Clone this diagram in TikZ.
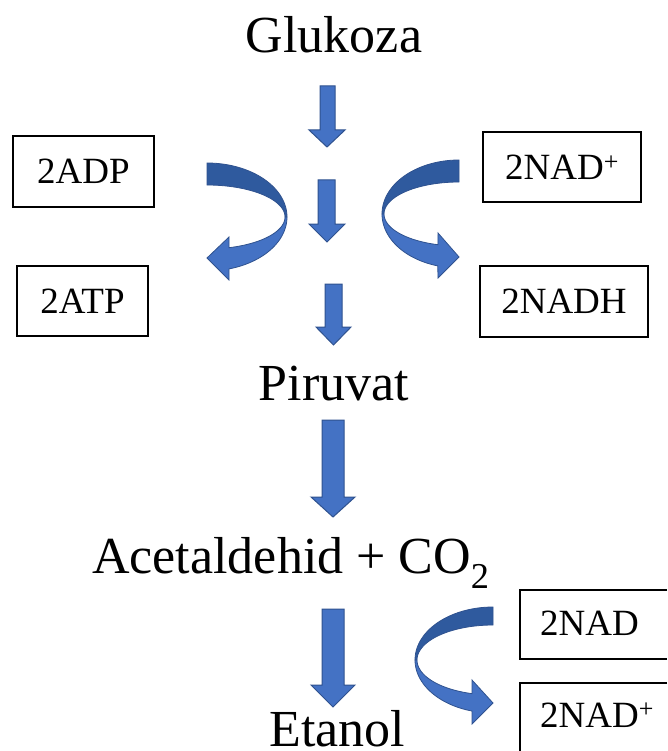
\documentclass[tikz,border=0pt]{standalone}
\usepackage{fontspec}
\setmainfont{Liberation Serif}
\definecolor{arrowfill}{HTML}{4472C4}
\definecolor{arrowdark}{HTML}{2F5A9E}
\definecolor{arrowline}{HTML}{2F528F}
\tikzset{
  big/.style={inner sep=0pt, anchor=base, font=\fontsize{52}{60}\selectfont},
  boxnode/.style={draw=black, line width=1.2pt, inner sep=0pt, font=\fontsize{37}{44}\selectfont},
  boxtext/.style={inner sep=0pt, font=\fontsize{37}{44}\selectfont},
  boxline/.style={draw=black, line width=1.2pt, line cap=butt},
  blockarrow/.style={fill=arrowfill, draw=arrowline, line width=1pt, line join=miter},
  darkband/.style={fill=arrowdark, draw=arrowline, line width=0.8pt},
  lightband/.style={fill=arrowfill, draw=arrowline, line width=0.8pt, line join=miter}
}
% straight block arrow: #1 shaft left, #2 shaft right, #3 head left, #4 head right, #5 top, #6 head start, #7 tip
\newcommand{\myblockarrow}[7]{%
  \fill[blockarrow] (#1,#5) -- (#2,#5) -- (#2,#6) -- (#4,#6) -- ({(#3+#4)/2},#7) -- (#3,#6) -- (#1,#6) -- cycle;}
\begin{document}
\begin{tikzpicture}[x=1pt,y=-1pt]
\path[use as bounding box] (0,0) rectangle (667,751);
\fill[white] (0,0) rectangle (667,751);

% main texts
\node[big] (glu) at (334,53) {Glukoza};
\node[big] (pir) at (334,400) {Piruvat};
\node[big, anchor=base west] (ace) at (92,573) {Acetaldehid + CO\textsubscript{2}};
\node[big] (eta) at (337.5,746) {Etanol};

% boxes
\node[boxnode, minimum width=141, minimum height=71] (adp) at (83.5,171.5) {2ADP};
\node[boxnode, minimum width=131, minimum height=70] (atp) at (82.5,301) {2ATP};
\node[boxnode, minimum width=158, minimum height=70] (nadp) at (562,167) {2NAD\textsuperscript{+}};
\node[boxnode, minimum width=168, minimum height=71] (nadh) at (564,301.5) {2NADH};
% boxes cut by the right / bottom edge
\node[boxtext, anchor=base west] (nad2) at (540,635) {2NAD};
\node[boxtext, anchor=base west] (nadp2) at (540,727) {2NAD\textsuperscript{+}};
\coordinate (b1ne) at (667,590); \coordinate (b1nw) at (520,590);
\coordinate (b1sw) at (520,659); \coordinate (b1se) at (667,659);
\draw[boxline] (b1ne) -- (b1nw) -- (b1sw) -- (b1se);
\coordinate (b2ne) at (667,683); \coordinate (b2nw) at (520,683);
\coordinate (b2sw) at (520,751);
\draw[boxline] (b2ne) -- (b2nw) -- (b2sw);

% straight block arrows
\myblockarrow{320}{335}{309}{345}{86}{130}{147}
\myblockarrow{318}{335}{309}{345}{180}{224}{242}
\myblockarrow{325}{342}{316}{351}{284}{327}{345}
\myblockarrow{322}{344}{311}{355}{420}{497}{517}
\myblockarrow{322}{344}{311}{355}{609}{685}{707}

% left curved arrow (2ADP -> 2ATP)
\fill[darkband] plot[domain=-90:0, samples=40] ({207+80*cos(\x)},{217+54*sin(\x)})
  -- plot[domain=0:-90, samples=40] ({207+78*cos(\x)},{217+32*sin(\x)}) -- cycle;
\fill[lightband] plot[domain=0:74, samples=30] ({207+80*cos(\x)},{217+54*sin(\x)})
  -- (229,280) -- (207,258) -- (229,237)
  -- plot[domain=73.6:0, samples=30] ({207+78*cos(\x)},{217+32*sin(\x)}) -- cycle;

% right curved arrow (2NAD+ -> 2NADH)
\fill[darkband] plot[domain=-90:0, samples=40] ({459-77*cos(\x)},{214+54*sin(\x)})
  -- plot[domain=0:-90, samples=40] ({459-75*cos(\x)},{214+32*sin(\x)}) -- cycle;
\fill[lightband] plot[domain=0:74, samples=30] ({459-77*cos(\x)},{214+54*sin(\x)})
  -- (438,278) -- (459,257) -- (438,233)
  -- plot[domain=73.7:0, samples=30] ({459-75*cos(\x)},{214+32*sin(\x)}) -- cycle;

% bottom curved arrow (2NAD -> 2NAD+)
\fill[darkband] plot[domain=-90:0, samples=40] ({493-78*cos(\x)},{660+53*sin(\x)})
  -- plot[domain=0:-90, samples=40] ({493-76*cos(\x)},{660+35*sin(\x)}) -- cycle;
\fill[lightband] plot[domain=0:74.4, samples=30] ({493-78*cos(\x)},{660+53*sin(\x)})
  -- (472,724) -- (493,703) -- (472,680)
  -- plot[domain=74:0, samples=30] ({493-76*cos(\x)},{660+35*sin(\x)}) -- cycle;
\end{tikzpicture}
\end{document}
